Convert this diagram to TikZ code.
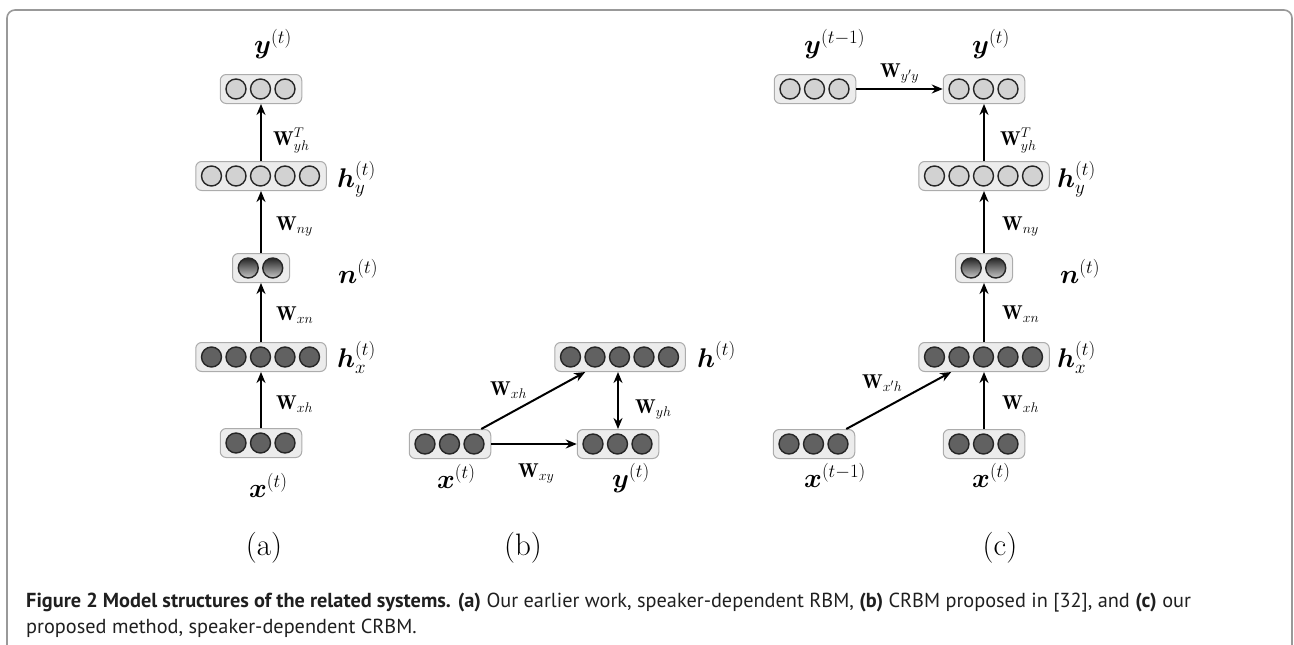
\RequirePackage{fix-cm}
\documentclass[tikz,border=0pt]{standalone}
\usepackage{amsmath}
\usepackage{fontspec}
\newfontfamily\captionfont{PT Sans}
\usetikzlibrary{calc}
\usetikzlibrary{arrows.meta}

\begin{document}
\begin{tikzpicture}[x=1pt, y=-1pt, >={Stealth[length=11pt,width=9pt]},
  layer/.style={draw=gray!65, fill=gray!15, rounded corners=6pt, minimum height=29pt, inner sep=0pt, line width=1pt},
  lightunit/.style={circle, draw=black!85, fill=gray!35, minimum size=20pt, inner sep=0pt, line width=1.4pt},
  darkunit/.style={lightunit, fill=black!62},
  shadeunit/.style={lightunit, top color=black!85, bottom color=gray!45},
  conn/.style={line width=2pt, ->},
  mlabel/.style={font=\fontsize{27}{32}\selectfont, inner sep=0pt, anchor=base west},
  wlabel/.style={font=\fontsize{20}{24}\selectfont, inner sep=0pt, anchor=base west},
  sublabel/.style={font=\fontsize{31}{37}\selectfont, inner sep=0pt}]
\useasboundingbox (0,0) rectangle (1294,645);
% frame
\draw[gray!80, line width=1.6pt, rounded corners=8pt] (7,650) -- (7,10) -- (1292,10) -- (1292,650);

% layers of units
\foreach \nm/\px/\py/\k/\st in {a-y/261/89/3/lightunit, a-hy/261/176/5/lightunit, a-n/261/268/2/shadeunit,
  a-hx/261/357/5/darkunit, a-x/261/443/3/darkunit,
  b-h/620/357/5/darkunit, b-x/450/444/3/darkunit, b-y/618/444/3/darkunit,
  c-yp/815/89/3/lightunit, c-y/984/89/3/lightunit, c-hy/984/176/5/lightunit, c-n/984/268/2/shadeunit,
  c-hx/984/357/5/darkunit, c-xp/814/444/3/darkunit, c-x/984/444/3/darkunit} {
 \node[layer, minimum width={\k*24.5+8}] (\nm) at (\px,\py) {};
 \foreach \i in {1,...,\k}
  \node[\st] (\nm-\i) at ($(\nm.west)+({\i*24.5-8.25},0)$) {};
}

% (a)
\node[mlabel] (a-y-lab) at (254,53) {$\boldsymbol{y}^{(t)}$};
\node[mlabel] (a-hy-lab) at (337,187) {$\boldsymbol{h}_y^{(t)}$};
\node[mlabel] (a-n-lab) at (338,283) {$\boldsymbol{n}^{(t)}$};
\node[mlabel] (a-hx-lab) at (337,367) {$\boldsymbol{h}_x^{(t)}$};
\node[mlabel] (a-x-lab) at (249,497) {$\boldsymbol{x}^{(t)}$};
\draw[conn] (a-x) -- (a-hx);
\draw[conn] (a-hx) -- (a-n);
\draw[conn] (a-n) -- (a-hy);
\draw[conn] (a-hy) -- (a-y);
\node[wlabel] (a-w1) at (276,409) {$\mathbf{W}_{xh}$};
\node[wlabel] (a-w2) at (276,320) {$\mathbf{W}_{xn}$};
\node[wlabel] (a-w3) at (276,230) {$\mathbf{W}_{ny}$};
\node[wlabel] (a-w4) at (273,145) {$\mathbf{W}_{yh}^{T}$};

% (b)
\node[mlabel] (b-h-lab) at (697,367) {$\boldsymbol{h}^{(t)}$};
\node[mlabel] (b-x-lab) at (437,488) {$\boldsymbol{x}^{(t)}$};
\node[mlabel] (b-y-lab) at (612,487) {$\boldsymbol{y}^{(t)}$};
\draw[conn] (b-x) -- (b-y);
\draw[conn] ($(b-x.north east)+(-10,0)$) -- ($(b-h.south west)+(31,0)$);
\draw[conn, <->] (b-y.north) -- (b-y.north |- b-h.south);
\node[wlabel] (b-w1) at (490,395) {$\mathbf{W}_{xh}$};
\node[wlabel] (b-w2) at (635,413) {$\mathbf{W}_{yh}$};
\node[wlabel] (b-w3) at (518,477) {$\mathbf{W}_{xy}$};

% (c)
\node[mlabel] (c-yp-lab) at (804,53) {$\boldsymbol{y}^{(t-1)}$};
\node[mlabel] (c-y-lab) at (972,53) {$\boldsymbol{y}^{(t)}$};
\node[mlabel] (c-hy-lab) at (1057,187) {$\boldsymbol{h}_y^{(t)}$};
\node[mlabel] (c-n-lab) at (1060,283) {$\boldsymbol{n}^{(t)}$};
\node[mlabel] (c-hx-lab) at (1057,367) {$\boldsymbol{h}_x^{(t)}$};
\node[mlabel] (c-xp-lab) at (804,487) {$\boldsymbol{x}^{(t-1)}$};
\node[mlabel] (c-x-lab) at (972,487) {$\boldsymbol{x}^{(t)}$};
\draw[conn] (c-yp) -- (c-y);
\draw[conn] (c-x) -- (c-hx);
\draw[conn] (c-hx) -- (c-n);
\draw[conn] (c-n) -- (c-hy);
\draw[conn] (c-hy) -- (c-y);
\draw[conn] ($(c-xp.north east)+(-9,0)$) -- ($(c-hx.south west)+(33,0)$);
\node[wlabel] (c-w1) at (880,77) {$\mathbf{W}_{y'y}$};
\node[wlabel] (c-w2) at (1000,145) {$\mathbf{W}_{yh}^{T}$};
\node[wlabel] (c-w3) at (1002,230) {$\mathbf{W}_{ny}$};
\node[wlabel] (c-w4) at (1002,319) {$\mathbf{W}_{xn}$};
\node[wlabel] (c-w5) at (862,388) {$\mathbf{W}_{x'h}$};
\node[wlabel] (c-w6) at (1002,409) {$\mathbf{W}_{xh}$};

% sub-figure tags
\node[sublabel] (tag-a) at (264,548) {(a)};
\node[sublabel] (tag-b) at (523,548) {(b)};
\node[sublabel] (tag-c) at (1000,548) {(c)};

% caption
\node[anchor=base west, inner sep=0pt, text=black!88, font=\captionfont\fontsize{20.3}{24}\selectfont] (cap-1) at (26,607)
 {\textbf{Figure 2 Model structures of the related systems. (a)} Our earlier work, speaker-dependent RBM, \textbf{(b)} CRBM proposed in [32], and \textbf{(c)} our};
\node[anchor=base west, inner sep=0pt, text=black!88, font=\captionfont\fontsize{20.3}{24}\selectfont] (cap-2) at (26,633)
 {proposed method, speaker-dependent CRBM.};
\end{tikzpicture}
\end{document}
